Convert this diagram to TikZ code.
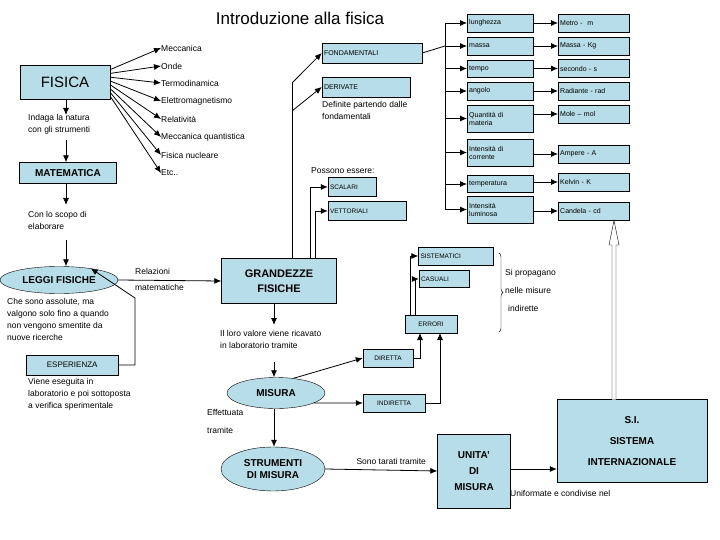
\documentclass[tikz,border=0pt]{standalone}
\usepackage{fontspec}
\setmainfont{Liberation Sans}
\usetikzlibrary{arrows.meta,positioning,calc,decorations.pathreplacing,shapes.geometric}
\definecolor{boxfill}{HTML}{B7DDE8}
\tikzset{
  box/.style={draw, fill=boxfill, inner sep=2pt, font=\fontsize{7}{8}\selectfont},
  pbox/.style={box, anchor=west, text width=#1, align=left},
  bigbox/.style={draw, fill=boxfill, font=\bfseries\fontsize{11}{15}\selectfont, align=center},
  oval/.style={draw, fill=boxfill, ellipse, inner sep=0, font=\bfseries\fontsize{10}{12}\selectfont, align=center},
  lbl/.style={anchor=north west, inner sep=0, align=left, font=\fontsize{8.5}{12}\selectfont},
  arr/.style={-{Latex[length=7pt,width=6pt]}, thick},
  lnk/.style={thick}
}
\begin{document}
\begin{tikzpicture}[x=1pt,y=1pt]
  \useasboundingbox (0,0) rectangle (720,-540);
  \node[font=\fontsize{17}{20}\selectfont] (title) at (300,-18) {Introduzione alla fisica};

  % left column
  \node[box, minimum width=90, minimum height=34, font=\fontsize{15}{18}\selectfont] (fis) at (65,-82) {FISICA};
  \foreach \i/\y/\t in {1/48/Meccanica, 2/66/Onde, 3/83/Termodinamica, 4/101/Elettromagnetismo,
                        5/119/Relatività, 6/137/Meccanica quantistica, 7/155/Fisica nucleare, 8/173/Etc..} {
    \node[lbl, anchor=west] (m\i) at (161,-\y) {\t};
    \draw[arr] ($(fis.north east)+(0,-1-\i*3.8)$) -- (m\i.west);
  }
  \node[lbl] (ind) at (28,-114) {Indaga la natura\\con gli strumenti};
  \draw[arr] (fis.south -| 66,0) -- (66,-115);
  \node[box, minimum width=97, minimum height=21, font=\bfseries\fontsize{10}{12}\selectfont] (mat) at (68,-173) {MATEMATICA};
  \draw[arr] (66,-140) -- (mat.north -| 66,0);
  \draw[arr] (mat.south -| 66,0) -- (66,-205);
  \node[lbl] (sco) at (28,-211) {Con lo scopo di\\elaborare};
  \coordinate (sc) at (66,-240);
  \node[oval, minimum width=118, minimum height=27] (leg) at (59,-280) {LEGGI FISICHE};
  \draw[arr] (sc) -- (leg.north -| sc);
  \node[lbl] (ass) at (7,-298) {Che sono assolute, ma\\valgono solo fino a quando\\non vengono smentite da\\nuove ricerche};
  \node[box, minimum width=92, minimum height=20, anchor=west, font=\fontsize{8}{10}\selectfont] (esp) at (26,-365) {ESPERIENZA\hspace{28pt}};
  \node[lbl] (vie) at (28,-378) {Viene eseguita in\\laboratorio e poi sottoposta\\a verifica sperimentale};
  \draw[arr] (esp.east) -| (135,-298) -- (leg.20);

  % centre
  \node[bigbox, minimum width=115, minimum height=45] (gra) at (279,-281) {GRANDEZZE\\FISICHE};
  \draw[arr] (leg.east) -- node[lbl, above=6pt, anchor=south west, xshift=-35pt] {Relazioni} node[lbl, below=3pt, anchor=north west, xshift=-35pt] {matematiche} (gra.west);
  \node[box, text width=96, minimum height=20, align=left] (fon) at (372,-53) {FONDAMENTALI};
  \node[box, text width=84, minimum height=20, align=left] (der) at (366,-87) {DERIVATE};
  \node[lbl] (def) at (322,-101) {Definite partendo dalle\\fondamentali};
  \node[lbl] (pos) at (311,-167) {Possono essere:};
  \node[box, text width=44, minimum height=19, align=left, font=\fontsize{6.5}{8}\selectfont] (sca) at (352,-187) {SCALARI};
  \node[box, text width=74, minimum height=19, align=left, font=\fontsize{6.5}{8}\selectfont] (vet) at (367,-211) {VETTORIALI};
  \draw[lnk] (292,-258) -- (292,-83) coordinate (f0);
  \draw[arr] (f0) -- (fon.west);
  \draw[arr] (292,-111) -- (der.west);
  \draw[arr] (310,-258) |- (sca.west);
  \draw[arr] (315,-258) |- (vet.west);

  % properties
  \draw[lnk] (fon.east) -- (445,-46);
  \draw[lnk] (445,-23) -- (445,-209.5);
  \foreach \i/\yl/\hl/\tl/\yr/\tr in {1/23/18/lunghezza/23/Metro -\ \ m, 2/46/18/massa/46/Massa - Kg,
      3/68.5/17/tempo/68.5/secondo - s, 4/91/18/angolo/91/Radiante - rad,
      5/118.5/27/Quantità di\\materia/114/Mole – mol, 6/152.5/27/Intensità di\\corrente/154/Ampere - A,
      7/184/17/temperatura/182/Kelvin - K, 8/209.5/27/Intensità\\luminosa/211/Candela - cd} {
    \node[pbox=62, minimum height=\hl] (l\i) at (467,-\yl) {\tl};
    \node[pbox=67, minimum height=18] (r\i) at (558,-\yr) {\tr};
    \draw[arr] (445,-\yl) -- (l\i.west);
    \draw[arr] (l\i.east |- r\i) -- (r\i.west);
  }

  % measurement
  \node[lbl] (val) at (220,-330) {Il loro valore viene ricavato\\in laboratorio tramite};
  \draw[arr] (gra.south -| 274,0) -- (274,-325);
  \node[oval, minimum width=98, minimum height=31] (mis) at (276,-393) {MISURA};
  \draw[arr] (274,-362) -- (mis.north -| 274,0);
  \node[lbl] (eff) at (207,-409) {Effettuata\\[6pt]tramite};
  \node[oval, minimum width=104, minimum height=44] (str) at (273,-469) {STRUMENTI\\DI MISURA};
  \draw[arr] (mis.south -| 274,0) -- (str.north -| 274,0);
  \node[box, minimum width=50, minimum height=18, font=\fontsize{6.5}{8}\selectfont] (dir) at (388,-358) {DIRETTA};
  \node[box, minimum width=62, minimum height=18, font=\fontsize{6.5}{8}\selectfont] (ndi) at (394,-403) {INDIRETTA};
  \draw[arr] (mis.40) -- (dir.west);
  \draw[arr] (mis.-15) -- (ndi.west);
  \node[box, minimum width=52, minimum height=18, font=\fontsize{6.5}{8}\selectfont] (err) at (431,-324) {ERRORI};
  \draw[arr] (dir.east) -| (420,-333);
  \draw[arr] (ndi.east) -| (440,-333);
  \node[box, text width=71, minimum height=18, align=left, font=\fontsize{6.5}{8}\selectfont] (sis) at (456,-256) {SISTEMATICI};
  \node[box, text width=46, minimum height=17, align=left, font=\fontsize{6.5}{8}\selectfont] (cas) at (444,-279) {CASUALI};
  \draw[arr] (410,-315) |- (sis.west);
  \draw[arr] (415,-315) |- (cas.west);
  \draw[decorate, decoration={brace, amplitude=4pt}] (499,-253) -- (499,-332);
  \node[lbl] (pro) at (505,-269) {Si propagano\\[6pt]nelle misure\\[6pt]\hspace{3pt}indirette};

  % units
  \node[bigbox, minimum width=73, minimum height=74, font=\bfseries\fontsize{10}{16}\selectfont] (uni) at (474,-471) {UNITA’\\DI\\MISURA};
  \draw[arr] (str.east) -- node[lbl, above=5pt, anchor=south, xshift=10pt] {Sono tarati tramite} (uni.west);
  \node[bigbox, minimum width=150, minimum height=83, font=\bfseries\fontsize{10}{21}\selectfont] (si) at (632,-441) {S.I.\\SISTEMA\\INTERNAZIONALE};
  \draw[arr] (uni.east |- 0,-469) -- (si.west |- 0,-469);
  \node[lbl] (unf) at (510,-490) {Uniformate e condivise nel};
  \draw[thin, fill=white] (612,-399.5) -- (612,-245) -- (609,-245) -- (614,-220.5) -- (619,-245) -- (616,-245) -- (616,-399.5);
\end{tikzpicture}
\end{document}
